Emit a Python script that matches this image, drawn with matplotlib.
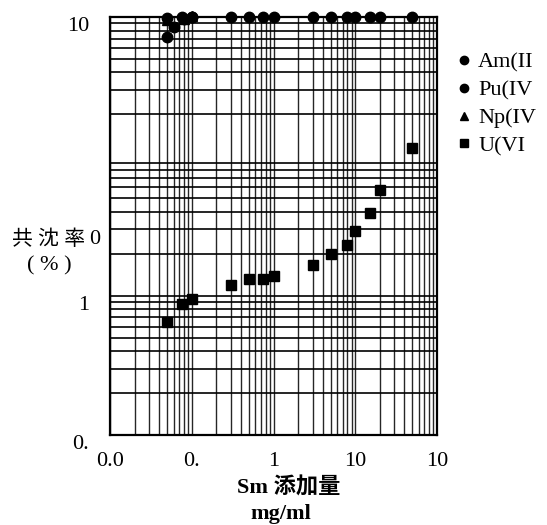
import numpy as np
import matplotlib
matplotlib.use("Agg")
import matplotlib.pyplot as plt
import matplotlib.transforms as mtransforms
from matplotlib.lines import Line2D

plt.rcParams['font.family'] = ['Liberation Serif', 'Noto Sans CJK JP', 'DejaVu Sans']

#%%
# data (Sm added, mg/ml  vs  coprecipitation, %)
sm_x = [0.05, 0.075, 0.1, 0.3, 0.5, 0.75, 1, 3, 5, 8, 10, 15, 20, 50]

am_y = [98, 100, 100, 100, 100, 100, 100, 100, 100, 100, 100, 100, 100, 100]

pu_x = [0.05, 0.06, 0.08, 0.1]
pu_y = [72, 85, 97, 100]

np_x = [0.05, 0.08, 0.1]
np_y = [95, 97, 101]

u_y = [0.65, 0.87, 0.95, 1.19, 1.31, 1.32, 1.39, 1.66, 1.99, 2.31, 2.9, 3.94, 5.73, 11.4]

x_ticks = [0.01, 0.1, 1, 10, 100]
x_ticklabels = ["0.0", "0.", "1", "10", "10"]
y_ticks = [0.1, 1, 100]
y_ticklabels = ["0.", "1", "10"]

legend_labels = ["Am(II", "Pu(IV", "Np(IV", "U(VI"]

#%%
fig = plt.figure(figsize=(5.47, 5.25), dpi=100)
ax = fig.add_axes([110/547, 1-435/525, 327/547, 418/525])

ax.set_xscale('log')
ax.set_yscale('log')
ax.set_xlim(0.01, 100)
ax.set_ylim(0.1, 100)

# dense log grid
ax.grid(True, which='both', axis='y', color='black', lw=1.2)
ax.grid(True, which='both', axis='x', color='0.15', lw=1.0)
ax.set_axisbelow(True)

ax.plot(sm_x, am_y, 'o', color='black', ms=7.5, clip_on=False, zorder=5)
ax.plot(pu_x, pu_y, 'o', color='black', ms=7.5, clip_on=False, zorder=5)
ax.plot(np_x, np_y, '^', color='black', ms=7, clip_on=False, zorder=5)
ax.plot(sm_x, u_y, 's', color='black', ms=7.5, clip_on=False, zorder=5)

for s in ax.spines.values():
    s.set_linewidth(1.6)

ax.set_xticks(x_ticks)
ax.set_xticklabels(x_ticklabels)
ax.set_yticks(y_ticks)
ax.set_yticklabels(y_ticklabels)
ax.tick_params(which='both', length=0)
ax.tick_params(axis='x', pad=12, labelsize=16)
ax.tick_params(axis='y', pad=15, labelsize=16)

# y labels sit a little low in the original
offset = mtransforms.ScaledTranslation(0, -7/100, fig.dpi_scale_trans)
for lab in ax.get_yticklabels():
    lab.set_transform(lab.get_transform() + offset)

# axis titles
fig.text(12/547, 1-240/525, "共 沈 率", fontsize=15, va='center', ha='left')
fig.text(100/547, 1-240/525, "0", fontsize=16, va='center', ha='right')
fig.text(49/547, 1-266/525, "( % )", fontsize=16, va='center', ha='center')
fig.text(289/547, 1-488/525, "Sm 添加量", fontsize=16, fontweight='bold',
         va='center', ha='center')
fig.text(281/547, 1-514/525, "mg/ml", fontsize=16, fontweight='bold',
         va='center', ha='center')

# legend, cut by the page edge in the original
handles = [Line2D([], [], marker='o', ls='', color='black', ms=6),
           Line2D([], [], marker='o', ls='', color='black', ms=6),
           Line2D([], [], marker='^', ls='', color='black', ms=6),
           Line2D([], [], marker='s', ls='', color='black', ms=5.5)]
fig.legend(handles, legend_labels, loc='upper left',
           bbox_to_anchor=(457/547, 1-52/525), frameon=False,
           fontsize=16, handlelength=0.6, handletextpad=0.35,
           labelspacing=0.33, borderpad=0, borderaxespad=0)

fig.savefig("out.png", dpi=100)
